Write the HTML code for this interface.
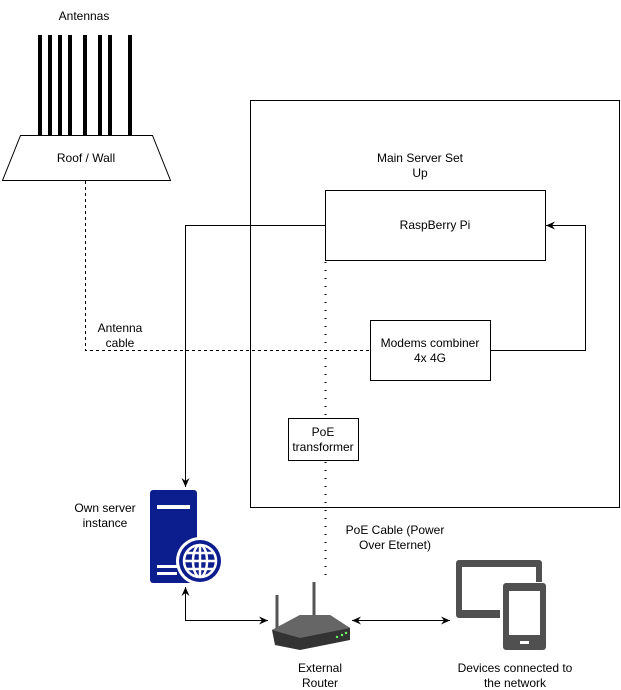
<!DOCTYPE html>
<html><head><style>body{margin:0;background:#fff}svg{display:block;font-family:"Liberation Sans",Helvetica,sans-serif;font-size:12px}</style></head><body>
<svg width="621" height="690" viewBox="0 0 621 690">
<defs><marker id="a" markerWidth="10" markerHeight="10" refX="9" refY="5" orient="auto" markerUnits="userSpaceOnUse"><path d="M0,1 L9,5 L0,9 L3,5Z" fill="#000"/></marker></defs>
<rect x="250.5" y="100.5" width="369" height="407" fill="none" stroke="#000"/>
<text x="420" y="162" text-anchor="middle">Main Server Set</text><text x="420" y="177" text-anchor="middle">Up</text>
<g stroke="#000" stroke-width="4"><line x1="40" y1="35" x2="40" y2="135"/><line x1="50" y1="35" x2="50" y2="135"/><line x1="60" y1="35" x2="60" y2="135"/><line x1="70" y1="35" x2="70" y2="135"/><line x1="85" y1="35" x2="85" y2="135"/><line x1="100" y1="35" x2="100" y2="135"/><line x1="110" y1="35" x2="110" y2="135"/><line x1="130" y1="35" x2="130" y2="135"/></g>
<text x="84" y="20" text-anchor="middle">Antennas</text>
<path d="M20.5,135.5 L152.5,135.5 L170.5,180.5 L2.5,180.5Z" fill="#fff" stroke="#000"/>
<text x="86" y="162" text-anchor="middle">Roof / Wall</text>
<path d="M85.5,181 V350.5 H370" fill="none" stroke="#000" stroke-dasharray="3,3"/>
<text x="120" y="332" text-anchor="middle">Antenna</text><text x="120" y="347" text-anchor="middle">cable</text>
<rect x="325.5" y="190.5" width="220" height="70" fill="#fff" stroke="#000"/>
<text x="435" y="229" text-anchor="middle">RaspBerry Pi</text>
<line x1="325.5" y1="262" x2="325.5" y2="575" stroke="#000" stroke-width="2" stroke-dasharray="1,7"/>
<rect x="370.5" y="320.5" width="120" height="60" fill="#fff" stroke="#000"/>
<text x="430" y="347" text-anchor="middle">Modems combiner</text><text x="430" y="362" text-anchor="middle">4x 4G</text>
<path d="M490,350.5 H585.5 V225.5 H546" fill="none" stroke="#000" marker-end="url(#a)"/>
<path d="M325,225.5 H185.5 V487" fill="none" stroke="#000" marker-end="url(#a)"/>
<rect x="288.5" y="418.5" width="70" height="42" fill="#fff" stroke="#000"/>
<text x="323" y="436" text-anchor="middle">PoE</text><text x="323" y="451" text-anchor="middle">transformer</text>
<text x="395" y="534" text-anchor="middle">PoE Cable (Power</text><text x="395" y="549" text-anchor="middle">Over Eternet)</text>
<text x="105" y="512" text-anchor="middle">Own server</text><text x="105" y="527" text-anchor="middle">instance</text>
<rect x="150" y="490" width="47" height="93" rx="3" fill="#0C1D8E"/>
<rect x="157" y="505" width="33" height="4" fill="#fff"/>
<rect x="157" y="565" width="20" height="3" fill="#fff"/><rect x="157" y="572" width="20" height="3" fill="#fff"/>
<circle cx="200" cy="561" r="24" fill="#fff"/><circle cx="200" cy="561" r="21" fill="#0C1D8E"/>
<g stroke="#fff" stroke-width="2.5" fill="none"><circle cx="200" cy="561" r="16"/><ellipse cx="200" cy="561" rx="7" ry="16"/><line x1="200" y1="545" x2="200" y2="577"/><line x1="184" y1="561" x2="216" y2="561"/><line x1="187" y1="553" x2="213" y2="553"/><line x1="187" y1="569" x2="213" y2="569"/></g>
<path d="M185.5,588 V620.5 H268" fill="none" stroke="#000" marker-end="url(#a)"/>
<line x1="185.5" y1="600" x2="185.5" y2="587" stroke="#000" marker-end="url(#a)"/>
<line x1="360" y1="620.5" x2="450" y2="620.5" stroke="#000" marker-end="url(#a)"/>
<line x1="440" y1="620.5" x2="352" y2="620.5" stroke="#000" marker-end="url(#a)"/>
<g><line x1="277" y1="595" x2="277" y2="630" stroke="#555" stroke-width="3"/><line x1="314" y1="582" x2="314" y2="620" stroke="#555" stroke-width="3"/>
<path d="M272,630 L300,615 L330,615 L350,628 L350,640 L300,650 L275,645Z" fill="#333"/>
<path d="M272,630 L300,615 L330,615 L350,628 L300,638Z" fill="#666"/>
<circle cx="337" cy="637" r="1.2" fill="#6f6"/><circle cx="342" cy="635" r="1.2" fill="#6f6"/><circle cx="346" cy="633" r="1.2" fill="#6f6"/></g>
<text x="320" y="672" text-anchor="middle">External</text><text x="320" y="687" text-anchor="middle">Router</text>
<path d="M459,560 H539 a3,3 0 0 1 3,3 V582 H536 V567 H462 V610 H500 V618 H459 a3,3 0 0 1 -3,-3 V563 a3,3 0 0 1 3,-3Z" fill="#505050"/>
<rect x="503" y="583" width="43" height="67" rx="3" fill="#505050"/>
<rect x="509" y="591" width="31" height="44" fill="#fff"/>
<rect x="520" y="641" width="9" height="3" fill="#fff"/>
<text x="515" y="672" text-anchor="middle">Devices connected to</text><text x="515" y="687" text-anchor="middle">the network</text>
</svg>
</body></html>
